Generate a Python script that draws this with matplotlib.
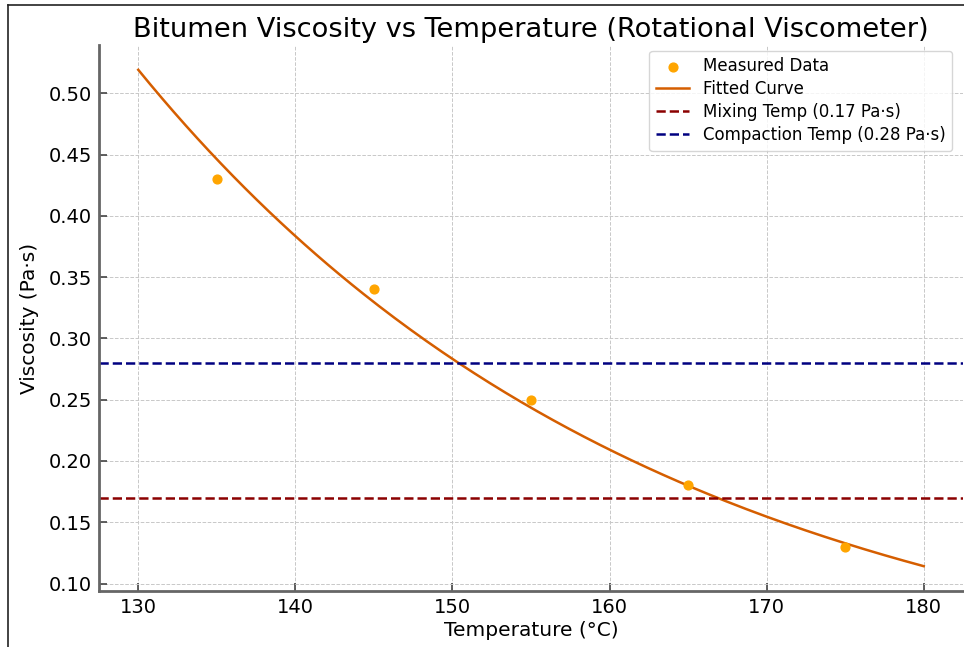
import numpy as np
import matplotlib
matplotlib.use("Agg")
import matplotlib.pyplot as plt
from matplotlib.lines import Line2D

# measured data
temps = np.array([135, 145, 155, 165, 175])
visc = np.array([0.43, 0.34, 0.25, 0.18, 0.13])

mixing_visc = 0.17
compaction_visc = 0.28

# exponential fit  visc = a*exp(b*T)  (log-linear)
b, ln_a = np.polyfit(temps, np.log(visc), 1)
t_fit = np.linspace(130, 180, 200)
v_fit = np.exp(ln_a) * np.exp(b * t_fit)

fig = plt.figure(figsize=(9.64, 6.47), dpi=100)
ax = fig.add_axes([99 / 964, 1 - 591 / 647, 864 / 964, 546 / 647])

ax.scatter(temps, visc, color="orange", s=40, zorder=3, label="Measured Data")
ax.plot(t_fit, v_fit, color="#d55e00", lw=1.8, label="Fitted Curve")
ax.axhline(mixing_visc, color="darkred", ls="--", lw=1.8,
           label=f"Mixing Temp ({mixing_visc} Pa·s)")
ax.axhline(compaction_visc, color="navy", ls="--", lw=1.8,
           label=f"Compaction Temp ({compaction_visc} Pa·s)")

ax.set_xticks([130, 140, 150, 160, 170, 180])
ax.set_yticks(np.arange(0.10, 0.51, 0.05))
ax.set_yticklabels([f"{v:.2f}" for v in np.arange(0.10, 0.51, 0.05)])

ax.set_title("Bitumen Viscosity vs Temperature (Rotational Viscometer)",
             fontsize=19.6, pad=6)
ax.set_xlabel("Temperature (°C)", fontsize=14.5, labelpad=3)
ax.set_ylabel("Viscosity (Pa·s)", fontsize=14.5, labelpad=7)

ax.grid(True, ls="--", color="#c8c8c8", lw=0.7)
for s in ["top", "right"]:
    ax.spines[s].set_visible(False)
for s in ["left", "bottom"]:
    ax.spines[s].set_color("#666666")
    ax.spines[s].set_linewidth(2)
ax.tick_params(direction="in", length=6, width=1.2, color="#444444",
               labelsize=14, pad=5)

ax.legend(loc="upper right", fontsize=12, frameon=True, borderpad=0.4,
          labelspacing=0.3, handlelength=2.0, bbox_to_anchor=(0.997, 1.005))

# screenshot frame on left and top
fig.add_artist(Line2D([8 / 964, 8 / 964], [0, 1 - 5 / 647], color="#222222", lw=1.2))
fig.add_artist(Line2D([8 / 964, 1], [1 - 5 / 647, 1 - 5 / 647], color="#222222", lw=1.2))

fig.savefig("out.png", dpi=100)
